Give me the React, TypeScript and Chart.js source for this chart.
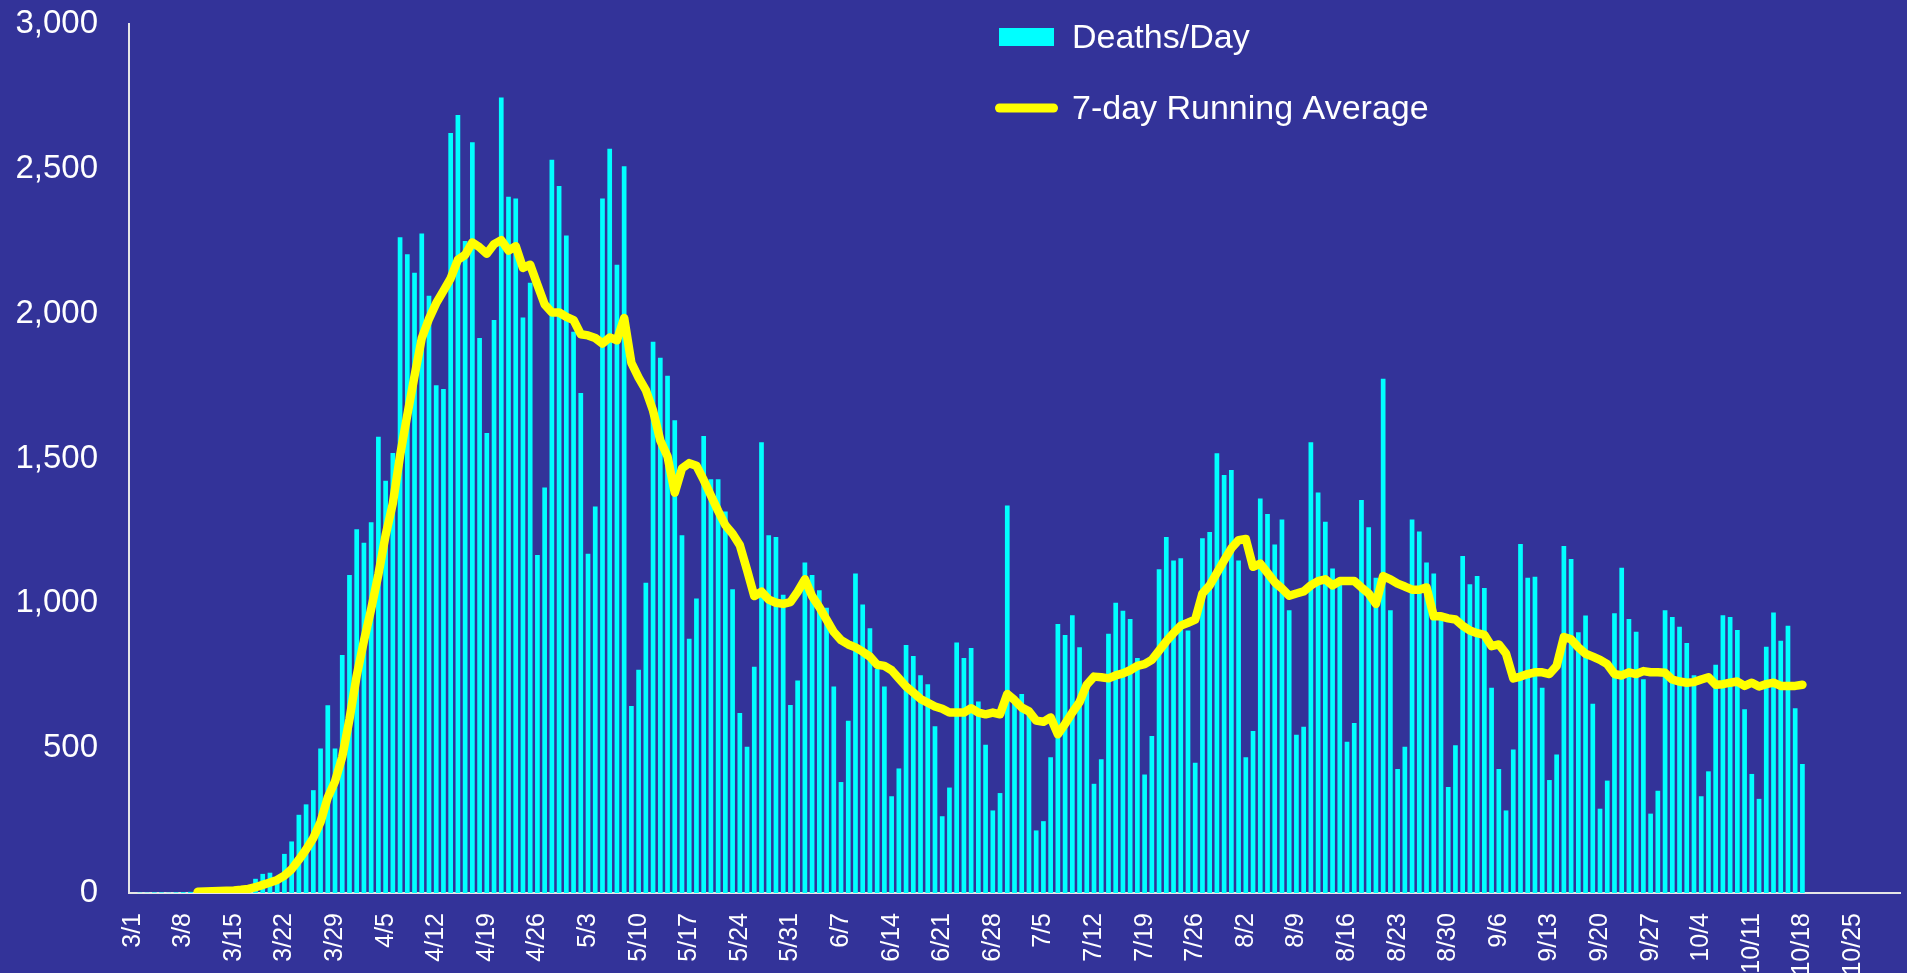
import { useEffect, useRef } from 'react';
import { Chart, registerables } from 'chart.js';

Chart.register(...registerables);

// Categories: every day from 3/1 to 10/31
const MONTHS = [3, 4, 5, 6, 7, 8, 9, 10];
const MONTH_DAYS = [31, 30, 31, 30, 31, 31, 30, 31];
const CATEGORIES: string[] = [];
MONTHS.forEach((m, k) => {
  for (let d = 1; d <= MONTH_DAYS[k]; d++) CATEGORIES.push(`${m}/${d}`);
});
const TICK_EVERY = 7;

const SERIES_NAMES = ['Deaths/Day', '7-day Running Average'];

// Deaths per day, 3/1 .. 10/18
const DEATHS: number[] = [
  0, 1, 1, 2, 2, 1, 2, 3, 4, 3, 5, 7, 9, 10, 12, 18, 23,
  49, 66, 70, 55,
  135, 178, 270, 306, 355, 499, 648, 499, 822, 1098, 1256, 1209, 1280, 1575, 1423, 1519, 2264,
  2205, 2141, 2277, 2062, 1753, 1740, 2624, 2686, 2251, 2592, 1916, 1588, 1978, 2746, 2404, 2398,
  1987, 2107, 1167, 1400, 2531, 2441, 2270, 1938, 1726, 1171, 1334, 2398, 2569, 2169, 2509, 646,
  771, 1071, 1903, 1848, 1786, 1632,
  1235, 878, 1017, 1578, 1428, 1428, 1317, 1049, 621, 505, 781, 1556, 1235, 1229, 1030, 649, 734,
  1141, 1098, 1045, 985, 713, 383, 595, 1103, 996, 914, 773, 713, 334, 430, 856, 818, 752, 721,
  576, 265, 364, 865,
  811, 846, 661, 512, 285, 345, 1338, 665, 687, 627, 216, 248, 469, 929, 891, 959, 848, 700, 377,
  462, 895, 1002, 974, 946, 811, 409, 542, 1118, 1229, 1148, 1156, 906, 450, 1225, 1246, 1518,
  1443, 1460, 1148,
  469, 559, 1362, 1308, 1203, 1289, 976, 546, 574, 1556, 1383, 1282, 1120, 1071, 522, 587, 1357,
  1263, 1088, 1775, 976, 428, 505, 1289, 1248, 1141, 1103, 960, 366, 510, 1163, 1066, 1094, 1053,
  709, 428, 285, 495, 1205,
  1088, 1092, 709, 390, 478, 1198, 1153, 900, 958, 653, 291, 388, 966, 1123, 946, 902, 738, 274,
  353, 976, 953, 919, 863, 752, 334, 420, 788, 959, 953, 908, 634, 411, 325, 850, 968, 871, 923,
  638, 445,
];

// 7-day running average
const RUNNING_AVG: (number | null)[] = [
  null, null, null, null, null, null, null, null, null,
  4, 5, 6, 7, 8, 9, 11, 14, 20, 28, 36, 45, 60, 82, 115, 150, 190, 245, 330, 385, 470, 600, 750,
  870, 980, 1100,
  1235, 1345, 1510, 1650, 1785, 1915, 1982, 2036, 2079, 2122, 2186, 2203, 2246, 2229, 2207, 2240,
  2254, 2218, 2233, 2158, 2169, 2100, 2032, 2004, 2004, 1989, 1978, 1929, 1925, 1916, 1897, 1918,
  1908, 1985, 1830, 1779, 1736, 1665, 1562, 1507, 1382,
  1466, 1484, 1475, 1426, 1372, 1319, 1270, 1240, 1201, 1115, 1025, 1040, 1013, 1002, 998, 1004,
  1040, 1083, 1025, 987, 944, 901, 873, 858, 848, 833, 816, 788, 784, 769, 741, 713, 692, 670, 657,
  644, 636, 623, 623,
  623, 638, 623, 617, 623, 617, 687, 666, 640, 627, 595, 591, 606, 548, 584, 623, 659, 719, 747,
  745, 741, 751, 758, 769, 784, 790, 805, 837, 869, 897, 923, 933, 944, 1034, 1062, 1105, 1148,
  1190, 1218,
  1222, 1126, 1137, 1105, 1073, 1051, 1026, 1034, 1041, 1062, 1077, 1083, 1062, 1077, 1077, 1077,
  1055, 1034, 998, 1094, 1083, 1068, 1058, 1047, 1047, 1055, 955, 955, 948, 944, 923, 906, 897,
  891, 852, 858, 826, 741, 747,
  756, 762, 762, 756, 784, 884, 876, 848, 826, 816, 805, 790, 756, 751, 762, 756, 766, 762, 762,
  760, 737, 730, 726, 728, 737, 745, 719, 721, 726, 730, 715, 726, 713, 721, 726, 715, 715, 715,
  719,
];

const Y_MIN = 0;
const Y_MAX = 3000;
const Y_STEP = 500;

const BG = '#333399';
const BAR_COLOR = '#00FFFF';
const LINE_COLOR = '#FFFF00';
const AXIS_COLOR = '#e6e6e6';
const TEXT_COLOR = '#ffffff';

const backgroundPlugin = {
  id: 'bgFill',
  beforeDraw(chart: any) {
    const ctx = chart.ctx;
    ctx.save();
    ctx.fillStyle = BG;
    ctx.fillRect(0, 0, chart.width, chart.height);
    ctx.restore();
  },
};

const legendPlugin = {
  id: 'stackedLegend',
  afterDraw(chart: any) {
    const ctx = chart.ctx;
    ctx.save();
    ctx.fillStyle = BAR_COLOR;
    ctx.fillRect(999, 28, 55, 18);
    ctx.strokeStyle = LINE_COLOR;
    ctx.lineWidth = 9;
    ctx.lineCap = 'round';
    ctx.beginPath();
    ctx.moveTo(999.5, 108);
    ctx.lineTo(1053.5, 108);
    ctx.stroke();
    ctx.fillStyle = TEXT_COLOR;
    ctx.font = '34px "Liberation Sans", Arial, sans-serif';
    ctx.textBaseline = 'alphabetic';
    ctx.textAlign = 'left';
    ctx.fillText(SERIES_NAMES[0], 1072, 47.5);
    ctx.fillText(SERIES_NAMES[1], 1072, 118.5);
    ctx.restore();
  },
};

export default function App() {
  const ref = useRef<HTMLCanvasElement | null>(null);

  useEffect(() => {
    if (!ref.current) return;
    const chart = new Chart(ref.current, {
      type: 'bar',
      data: {
        labels: CATEGORIES,
        datasets: [
          {
            type: 'line',
            label: SERIES_NAMES[1],
            data: RUNNING_AVG,
            borderColor: LINE_COLOR,
            backgroundColor: LINE_COLOR,
            borderWidth: 8.5,
            pointRadius: 0,
            tension: 0,
            borderJoinStyle: 'round',
            borderCapStyle: 'round',
            order: 0,
          } as any,
          {
            type: 'bar',
            label: SERIES_NAMES[0],
            data: DEATHS,
            backgroundColor: BAR_COLOR,
            borderWidth: 0,
            barPercentage: 0.65,
            categoryPercentage: 1,
            order: 1,
          } as any,
        ],
      },
      options: {
        animation: false,
        responsive: true,
        maintainAspectRatio: false,
        layout: { padding: { left: 0, top: 24, right: 7, bottom: 0 } },
        plugins: {
          legend: { display: false },
          tooltip: { enabled: false },
          title: { display: false },
        },
        scales: {
          x: {
            grid: { display: false, drawTicks: false },
            border: { display: true, color: AXIS_COLOR, width: 2 },
            ticks: {
              autoSkip: false,
              maxRotation: 90,
              minRotation: 90,
              padding: 20,
              color: TEXT_COLOR,
              font: { family: "'Liberation Sans', Arial, sans-serif", size: 25 },
              callback: (_v: any, idx: number) => (idx % TICK_EVERY === 0 ? CATEGORIES[idx] : ''),
            },
            afterFit: (scale: any) => {
              scale.height = 80;
              scale.paddingLeft = 0;
              scale.paddingRight = 0;
            },
          },
          y: {
            min: Y_MIN,
            max: Y_MAX,
            grid: { display: false, drawTicks: false },
            border: { display: true, color: AXIS_COLOR, width: 2 },
            ticks: {
              stepSize: Y_STEP,
              padding: 31,
              color: TEXT_COLOR,
              font: { family: "'Liberation Sans', Arial, sans-serif", size: 33 },
              callback: (v: any) => Number(v).toLocaleString('en-US'),
            },
            afterFit: (scale: any) => {
              scale.width = 129;
              scale.paddingTop = 0;
              scale.paddingBottom = 0;
            },
          },
        },
      },
      plugins: [backgroundPlugin, legendPlugin],
    });
    return () => chart.destroy();
  }, []);

  return (
    <div style={{ position: 'fixed', left: 0, top: 0, width: 1907, height: 973, background: BG }}>
      <canvas ref={ref} />
    </div>
  );
}
